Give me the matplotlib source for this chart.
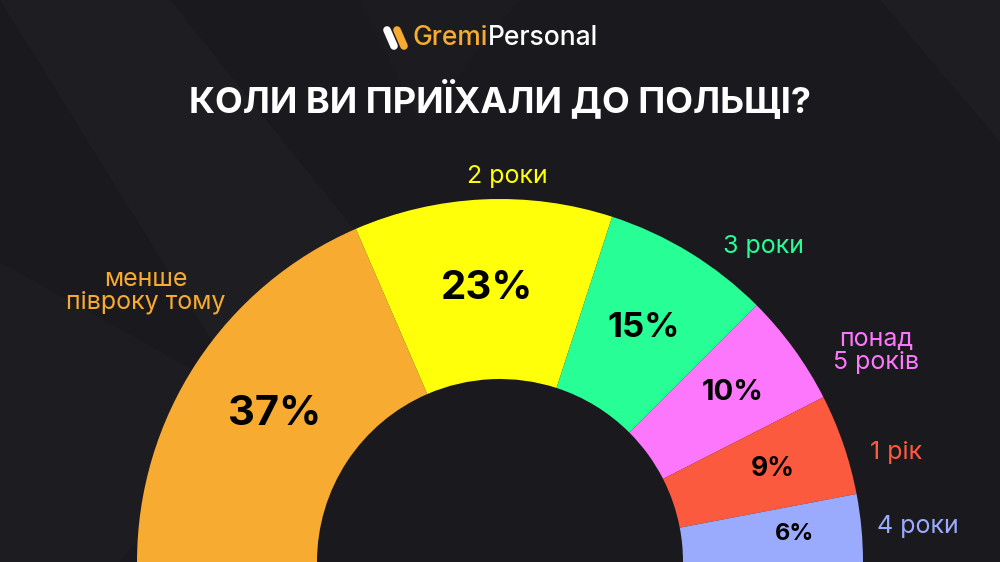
import matplotlib.pyplot as plt
from matplotlib.patches import Polygon
import numpy as np

# data
categories = ['менше\nпівроку тому', '2 роки', '3 роки', 'понад\n5 років', '1 рік', '4 роки']
shares = [37, 23, 15, 10, 9, 6]
colors = ['#F7AB31', '#FFFF0A', '#27FE95', '#FD77FD', '#FC5A3E', '#9AABFD']

title = 'КОЛИ ВИ ПРИЇХАЛИ ДО ПОЛЬЩІ?'
bg = '#1a191d'
W, H = 1000, 562

fig = plt.figure(figsize=(10, 5.62), dpi=100)
fig.patch.set_facecolor(bg)
ax = fig.add_axes([0, 0, 1, 1])
ax.set_facecolor(bg)

# faint background shapes
for pts, c in [([(0, 562), (170, 562), (380, 300), (250, 160)], '#1e1d22'),
               ([(0, 300), (250, 160), (120, 0), (0, 0)], '#1d1c21'),
               ([(880, 562), (1000, 562), (1000, 420)], '#1e1d22'),
               ([(360, 562), (520, 562), (420, 440)], '#1c1b20')]:
    ax.add_patch(Polygon(pts, closed=True, facecolor=c, edgecolor='none', zorder=0))

# half donut: invisible second half keeps the bottom empty
wedges, _ = ax.pie(shares + [sum(shares)], colors=colors + ['none'],
                   startangle=180, counterclock=False, radius=363, center=(500, 0),
                   wedgeprops=dict(width=180, linewidth=0))
ax.set_xlim(0, W)
ax.set_ylim(0, H)
ax.set_aspect('equal')
ax.axis('off')

font = 'Inter'
pct_sizes = [30, 29, 25, 21, 19, 17]
pct_r = [270, 274, 275, 288, 288, 296]
for i, w in enumerate(wedges[:-1]):
    mid = np.deg2rad((w.theta1 + w.theta2) / 2)
    x = 500 + pct_r[i] * np.cos(mid)
    y = pct_r[i] * np.sin(mid)
    ax.text(x, y, f'{shares[i]}%', ha='center', va='center', fontsize=pct_sizes[i],
            fontweight='bold', color='black', family=font)

label_pos = [(146, 271), (507, 386), (763, 316), (876, 211), (896, 109), (918, 35)]
for (x, y), lab, c in zip(label_pos, categories, colors):
    ax.text(x, y, lab, ha='center', va='center', fontsize=18, color=c,
            family=font, linespacing=1.0)

ax.text(500, H - 100, title, ha='center', va='center', fontsize=26,
        fontweight='bold', color='white', family=font)

# logo
ax.plot([387, 394], [H - 30, H - 46], color='white', lw=5.5, solid_capstyle='round')
ax.plot([397, 404], [H - 30, H - 46], color='#F7AB31', lw=5.5, solid_capstyle='round')
t1 = ax.text(412, H - 38, 'Gremi', ha='left', va='center', fontsize=19, color='#F7AB31',
             family=font, fontweight='medium')
fig.canvas.draw()
bb = t1.get_window_extent().transformed(ax.transData.inverted())
ax.text(bb.x1 + 1, H - 38, 'Personal', ha='left', va='center', fontsize=19, color='white',
        family=font, fontweight='medium')

fig.savefig('out.png', dpi=100, facecolor=bg)
